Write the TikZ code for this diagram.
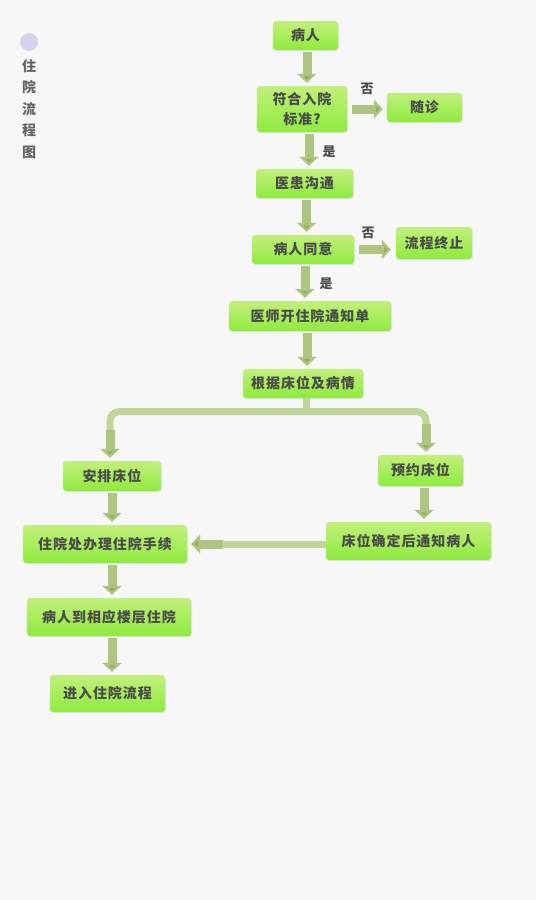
\documentclass[tikz,border=0pt]{standalone}
\usepackage{fontspec}
\newfontfamily\cjk[LetterSpace=7]{Noto Sans CJK SC}
\usetikzlibrary{arrows.meta,calc,shadows}
\definecolor{bg}{HTML}{F7F7F7}
\definecolor{txt}{HTML}{4A4A4A}
\definecolor{boxtop}{HTML}{C2F07C}
\definecolor{boxbot}{HTML}{8EEB3E}
\definecolor{arrc}{HTML}{ADC57F}
\definecolor{arrhead}{HTML}{93B062}
\definecolor{branchc}{HTML}{C0D59A}
\definecolor{dot}{HTML}{D6D2EC}
\tikzset{
  box/.style={rectangle, rounded corners=3pt, top color=boxtop, bottom color=boxbot,
    inner sep=0pt, align=center, text=txt,
    font=\cjk\bfseries\fontsize{14}{20.5}\selectfont,
    drop shadow={shadow xshift=1pt, shadow yshift=-1.2pt, opacity=0.15}},
  varr/.style={line width=9pt, draw=arrc, -{Triangle[width=19pt,length=9pt,fill=arrhead]},
    shorten <=2pt, shorten >=3pt},
  branch/.style={line width=7pt, draw=branchc, rounded corners=9pt},
  lbl/.style={text=txt, font=\cjk\bfseries\fontsize{13}{14}\selectfont, inner sep=0pt}
}
\begin{document}
\begin{tikzpicture}[x=1pt,y=-1pt]
\fill[bg] (0,0) rectangle (536,900);
\useasboundingbox (0,0) rectangle (536,900);

% title
\fill[dot] (29,42) circle (9);
\node[text=txt!85, align=center, inner sep=0pt, font=\cjk\bfseries\fontsize{14}{21.5}\selectfont] (title) at (29,109) {住\\院\\流\\程\\图};

% boxes
\node[box, minimum width=65pt, minimum height=29pt] (n1) at (305.5,35.5) {病人};
\node[box, minimum width=90pt, minimum height=46pt] (n2) at (302,109) {符合入院\\标准?};
\node[box, minimum width=75pt, minimum height=29pt] (n3) at (424.5,107.5) {随诊};
\node[box, minimum width=97pt, minimum height=29pt] (n4) at (304.5,183.5) {医患沟通};
\node[box, minimum width=102pt, minimum height=29pt] (n5) at (303,249.5) {病人同意};
\node[box, minimum width=76pt, minimum height=32pt] (n6) at (434,243) {流程终止};
\node[box, minimum width=162pt, minimum height=30pt] (n7) at (310,316) {医师开住院通知单};
\node[box, minimum width=120pt, minimum height=29pt] (n8) at (303,383.5) {根据床位及病情};
\node[box, minimum width=98pt, minimum height=30pt] (n9) at (112,476) {安排床位};
\node[box, minimum width=85pt, minimum height=31pt] (n10) at (420.5,470.5) {预约床位};
\node[box, minimum width=164pt, minimum height=38pt] (n11) at (105,544) {住院处办理住院手续};
\node[box, minimum width=165pt, minimum height=38pt] (n12) at (408.5,541) {床位确定后通知病人};
\node[box, minimum width=164pt, minimum height=38pt] (n13) at (109,617) {病人到相应楼层住院};
\node[box, minimum width=115pt, minimum height=37pt] (n14) at (107.5,693.5) {进入住院流程};

% labels
\node[lbl] (l1) at (367,89) {否};
\node[lbl] (l2) at (329,152) {是};
\node[lbl] (l3) at (368,233) {否};
\node[lbl] (l4) at (326,284) {是};

% vertical arrows
\draw[varr] ($(n1.south)+(1.5,0)$) -- ($(n1.south |- n2.north)+(1.5,0)$);
\draw[varr] ($(n2.south)+(7,0)$) -- ($(n2.south |- n4.north)+(7,0)$);
\draw[varr] ($(n4.south)+(2,0)$) -- ($(n4.south |- n5.north)+(2,0)$);
\draw[varr] ($(n5.south)+(2,0)$) -- ($(n5.south |- n7.north)+(2,0)$);
\draw[varr] ($(n7.south)+(-3,0)$) -- ($(n7.south |- n8.north)+(-3,0)$);
\draw[varr] (n9.south) -- (n9.south |- n11.north);
\draw[varr] ($(n10.south)+(3.5,0)$) -- ($(n10.south |- n12.north)+(3.5,0)$);
\draw[varr] ($(n11.south)+(7,0)$) -- ($(n11.south |- n13.north)+(7,0)$);
\draw[varr] ($(n13.south)+(3,0)$) -- ($(n13.south |- n14.north)+(3,0)$);

% horizontal arrows (no)
\draw[varr, shorten <=5pt, shorten >=4pt] (n2.east) -- (n2.east -| n3.west);
\draw[varr, shorten <=5pt, shorten >=5pt] (n5.east) -- (n5.east -| n6.west);

% branch
\coordinate (bj) at ($(n8.south)+(3,13.5)$);
\draw[branch] ($(n8.south)+(3,0)$) -- (bj);
\draw[branch] (bj) -| ($(n9.north)+(-2,-30)$);
\draw[branch] (bj) -| ($(n10.north)+(5.5,-30)$);
\draw[varr, shorten <=0pt] ($(n9.north)+(-2,-31)$) -- ($(n9.north)+(-2,0)$);
\draw[varr, shorten <=0pt] ($(n10.north)+(5.5,-31)$) -- ($(n10.north)+(5.5,0)$);

% left arrow
\draw[line width=7pt, draw=branchc] (n11.east -| n12.west) -- ($(n11.east)+(35,0)$);
\draw[varr, shorten <=0pt, shorten >=4pt] ($(n11.east)+(36,0)$) -- (n11.east);
\end{tikzpicture}
\end{document}
